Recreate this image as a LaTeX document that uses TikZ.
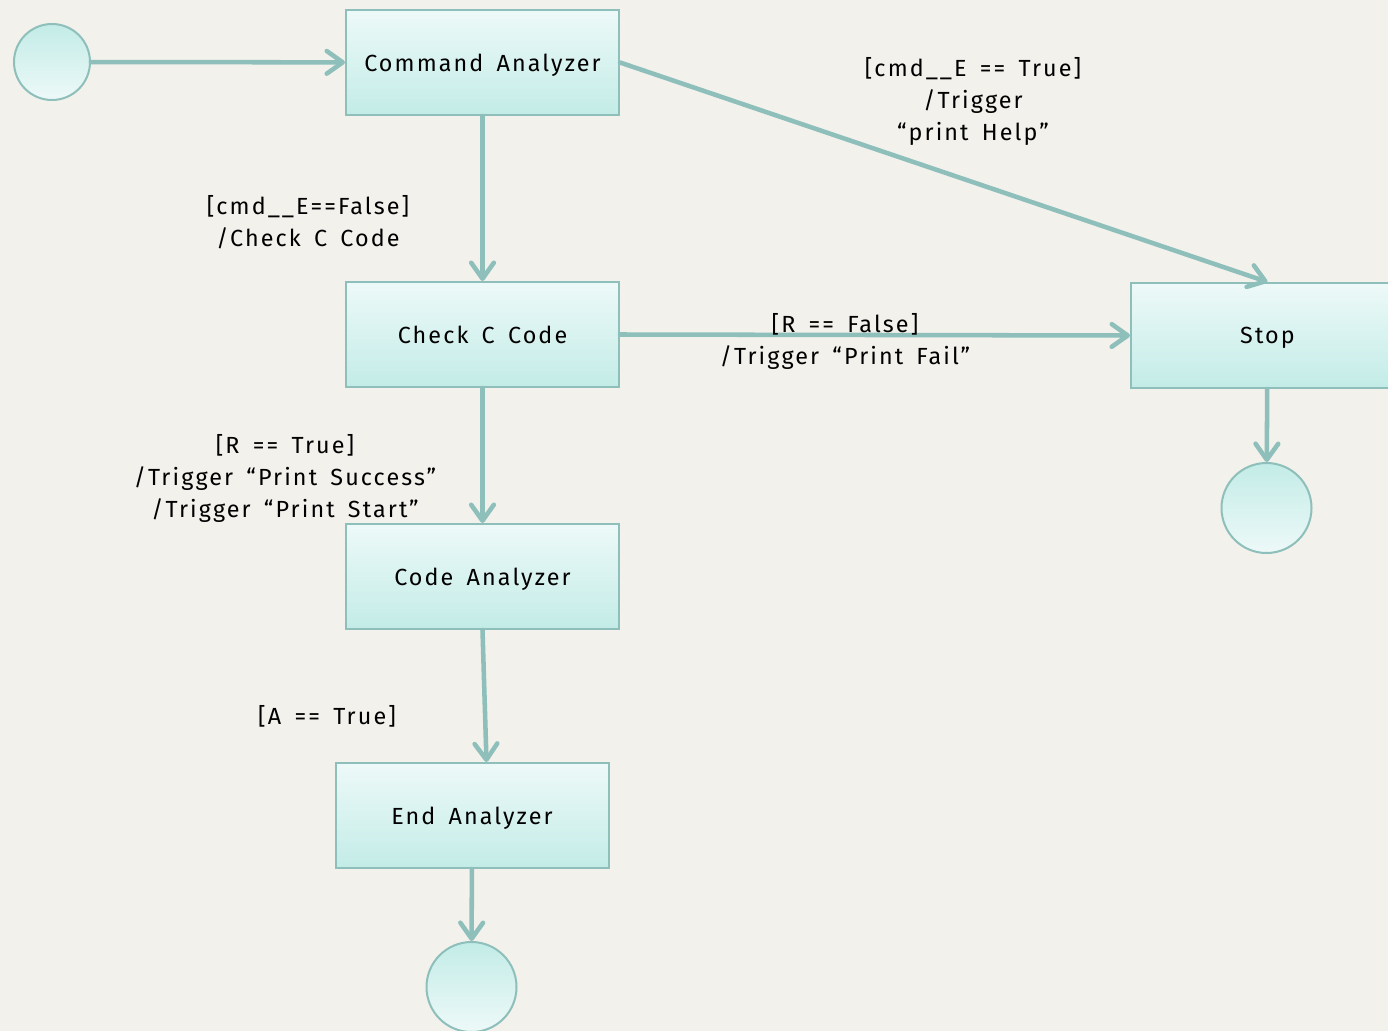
\documentclass[tikz,border=0pt]{standalone}
\usepackage{fontspec}
\setmainfont[LetterSpace=9,WordSpace=1.6]{Fira Sans}
\usetikzlibrary{arrows.meta}

\definecolor{paper}{HTML}{F2F1EC}
\definecolor{edgegreen}{HTML}{8EBFBA}
\definecolor{boxtop}{HTML}{EDF9F8}
\definecolor{boxbot}{HTML}{C3ECE7}

\tikzset{every picture/.style={line width=0.75pt}}

\begin{document}
\begin{tikzpicture}[x=0.75pt,y=0.75pt,yscale=-1,xscale=1,
	state/.style={draw=edgegreen,line width=1.5pt,top color=boxtop,bottom color=boxbot,minimum width=204.75pt,minimum height=78.75pt,font=\fontsize{17.5}{24}\selectfont},
	pseudo/.style={circle,draw=edgegreen,line width=1.5pt,top color=boxbot,bottom color=boxtop,inner sep=0pt},
	trans/.style={draw=edgegreen,line width=3.4pt,line cap=round,-{Straight Barb[length=12pt,width=17pt,round]}},
	guard/.style={align=center,font=\fontsize{17.5}{24}\selectfont}]
	\useasboundingbox (0,0) rectangle (1388,1031);
	\fill[paper] (0,0) rectangle (1388,1031);

	%States
	\node[pseudo,minimum size=57pt] (init) at (52,62) {};
	\node[state,text depth=-3pt] (cmd) at (482.5,62.5) {Command Analyzer};
	\node[state,text depth=-3pt] (chk) at (482.5,334.5) {Check C Code};
	\node[state,text depth=-3pt] (code) at (482.5,576.5) {Code Analyzer};
	\node[state,text depth=-3pt] (fin) at (472,815.5) {End Analyzer};
	\node[state,text depth=-3pt] (stop) at (1267.5,335.5) {Stop};
	\node[pseudo,minimum size=67.5pt] (stopend) at (1266.5,508) {};
	\node[pseudo,minimum size=67.5pt] (finend) at (471.5,987) {};

	%Transitions
	\draw[trans] (init) -- (cmd);
	\draw[trans] (cmd) -- (chk);
	\draw[trans] (cmd.east) -- (stop.north);
	\draw[trans] (chk.east) -- (stop.west);
	\draw[trans] (chk) -- (code);
	\draw[trans] (code.south) -- ([xshift=3pt]code.south |- fin.north);
	\draw[trans] (fin) -- (finend);
	\draw[trans] (stop) -- (stopend);

	%Guards
	\node[guard] (g1) at (973,101) {[cmd\_\_E == True]\\/Trigger\\“print Help”};
	\node[guard] (g2) at (308,222) {[cmd\_\_E==False]\\/Check C Code};
	\node[guard] (g3) at (845,341) {[R == False]\\/Trigger “Print Fail”};
	\node[guard] (g4) at (285,478) {[R == True]\\/Trigger “Print Success”\\/Trigger “Print Start”};
	\node[guard] (g5) at (327,716) {[A == True]};
\end{tikzpicture}
\end{document}
